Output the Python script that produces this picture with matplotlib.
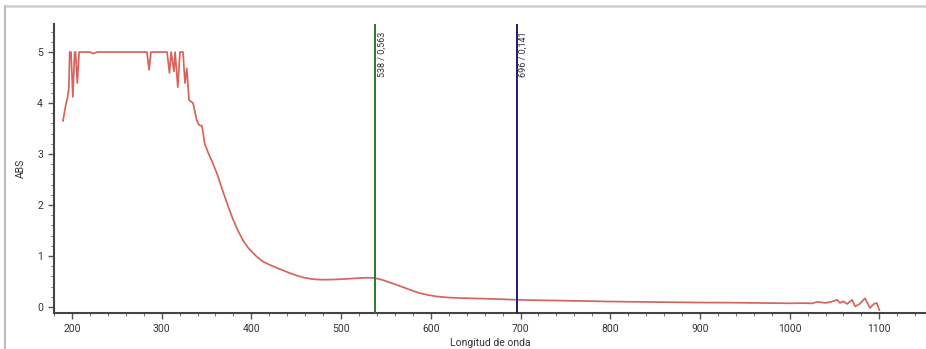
import matplotlib
matplotlib.use("Agg")
import matplotlib.pyplot as plt
from matplotlib.ticker import MultipleLocator
from matplotlib.lines import Line2D

plt.rcParams['font.family'] = ['Roboto', 'DejaVu Sans']

# Absorbance spectrum (wavelength in nm, absorbance)
wavelength = [190, 193, 195, 196.5, 197.5, 199, 201, 203, 204, 206, 208, 212, 220, 224, 228,
              240, 260, 280, 283.6, 286, 288, 290, 300, 306, 308.7, 310.6, 313.7, 315,
              318, 320.4, 323.8, 326, 328, 330.5, 335, 339, 341.6, 345, 348, 352,
              357, 362, 368, 374, 379.5, 385, 390.6, 396, 401.8, 407, 413, 420,
              428, 435, 442, 450, 457.6, 465, 472, 480, 488, 496, 505, 514, 521, 528, 534, 538,
              542, 548, 554.5, 564, 573.5, 581, 588, 597, 607, 620, 632.5, 655, 675,
              696, 720, 745, 770, 800, 825, 850, 875, 900, 925, 950, 975, 1000,
              1015, 1025, 1031, 1040, 1046, 1053, 1056, 1060, 1064, 1069.6, 1073,
              1078, 1084, 1089.6, 1094, 1097, 1100]
absorbance = [3.65, 3.95, 4.1, 4.29, 5.0, 5.0, 4.12, 5.0, 5.0, 4.39, 5.0, 5.0, 5.0, 4.97, 5.0,
              5.0, 5.0, 5.0, 5.0, 4.65, 5.0, 5.0, 5.0, 5.0, 4.59, 5.0, 4.62, 5.0,
              4.31, 5.0, 5.0, 4.39, 4.68, 4.06, 4.0, 3.67, 3.57, 3.55, 3.2, 3.02,
              2.82, 2.6, 2.28, 1.98, 1.72, 1.50, 1.31, 1.17, 1.06, 0.97, 0.89, 0.83,
              0.77, 0.72, 0.67, 0.62, 0.58, 0.555, 0.54, 0.535, 0.537, 0.542, 0.55, 0.56, 0.568, 0.573, 0.572, 0.563,
              0.55, 0.52, 0.48, 0.42, 0.36, 0.31, 0.27, 0.235, 0.205, 0.185, 0.175, 0.165, 0.155,
              0.141, 0.132, 0.125, 0.117, 0.107, 0.102, 0.097, 0.092, 0.087, 0.086, 0.082, 0.077, 0.072,
              0.076, 0.071, 0.1, 0.08, 0.1, 0.14, 0.08, 0.11, 0.06, 0.14, 0.01,
              0.06, 0.17, -0.02, 0.06, 0.08, -0.06]

# Marker lines: wavelength and absorbance read at that wavelength
marker_wavelengths = [538, 696]
marker_values = ["0,563", "0,141"]
marker_colors = ["#2b7a2b", "#1c1c6b"]

fig = plt.figure(figsize=(9.26, 3.49), dpi=100)
ax = fig.add_axes([54 / 926, 36 / 349, (926 - 54) / 926, (313 - 24) / 349])

ax.plot(wavelength, absorbance, color="#d6645c", linewidth=1.25, zorder=3)

for wl, val, col in zip(marker_wavelengths, marker_values, marker_colors):
    ax.axvline(wl, color=col, linewidth=1.4, zorder=4)
    ax.text(wl + 2.5, 5.4, f"{wl} / {val}", rotation=90, ha="left", va="top",
            fontsize=6.5, color="#333333")

ax.set_xlim(180, 1152)
ax.set_ylim(-0.118, 5.55)

ax.xaxis.set_major_locator(MultipleLocator(100))
ax.xaxis.set_minor_locator(MultipleLocator(20))
ax.yaxis.set_major_locator(MultipleLocator(1))
ax.yaxis.set_minor_locator(MultipleLocator(0.2))
ax.set_xticks([200, 300, 400, 500, 600, 700, 800, 900, 1000, 1100])

for side in ("top", "right"):
    ax.spines[side].set_visible(False)
for side in ("left", "bottom"):
    ax.spines[side].set_color("#444444")
    ax.spines[side].set_linewidth(1.5)

ax.tick_params(axis="both", which="major", length=4, width=1, color="#555555",
               labelsize=7.5, labelcolor="#333333", pad=4)
ax.tick_params(axis="both", which="minor", length=2.5, width=0.8, color="#777777")

ax.set_xlabel("Longitud de onda", fontsize=7.5, color="#333333", labelpad=3)
ax.set_ylabel("ABS", fontsize=7.5, color="#333333", labelpad=8)

# Card border along the top and left edges
fig.add_artist(Line2D([5 / 926, 1], [1 - 6 / 349, 1 - 6 / 349], transform=fig.transFigure,
                      color="#cfcfcf", linewidth=1.8))
fig.add_artist(Line2D([5 / 926, 5 / 926], [0, 1 - 6 / 349], transform=fig.transFigure,
                      color="#bdbdbd", linewidth=1.5))

fig.savefig("out.png", dpi=100)
